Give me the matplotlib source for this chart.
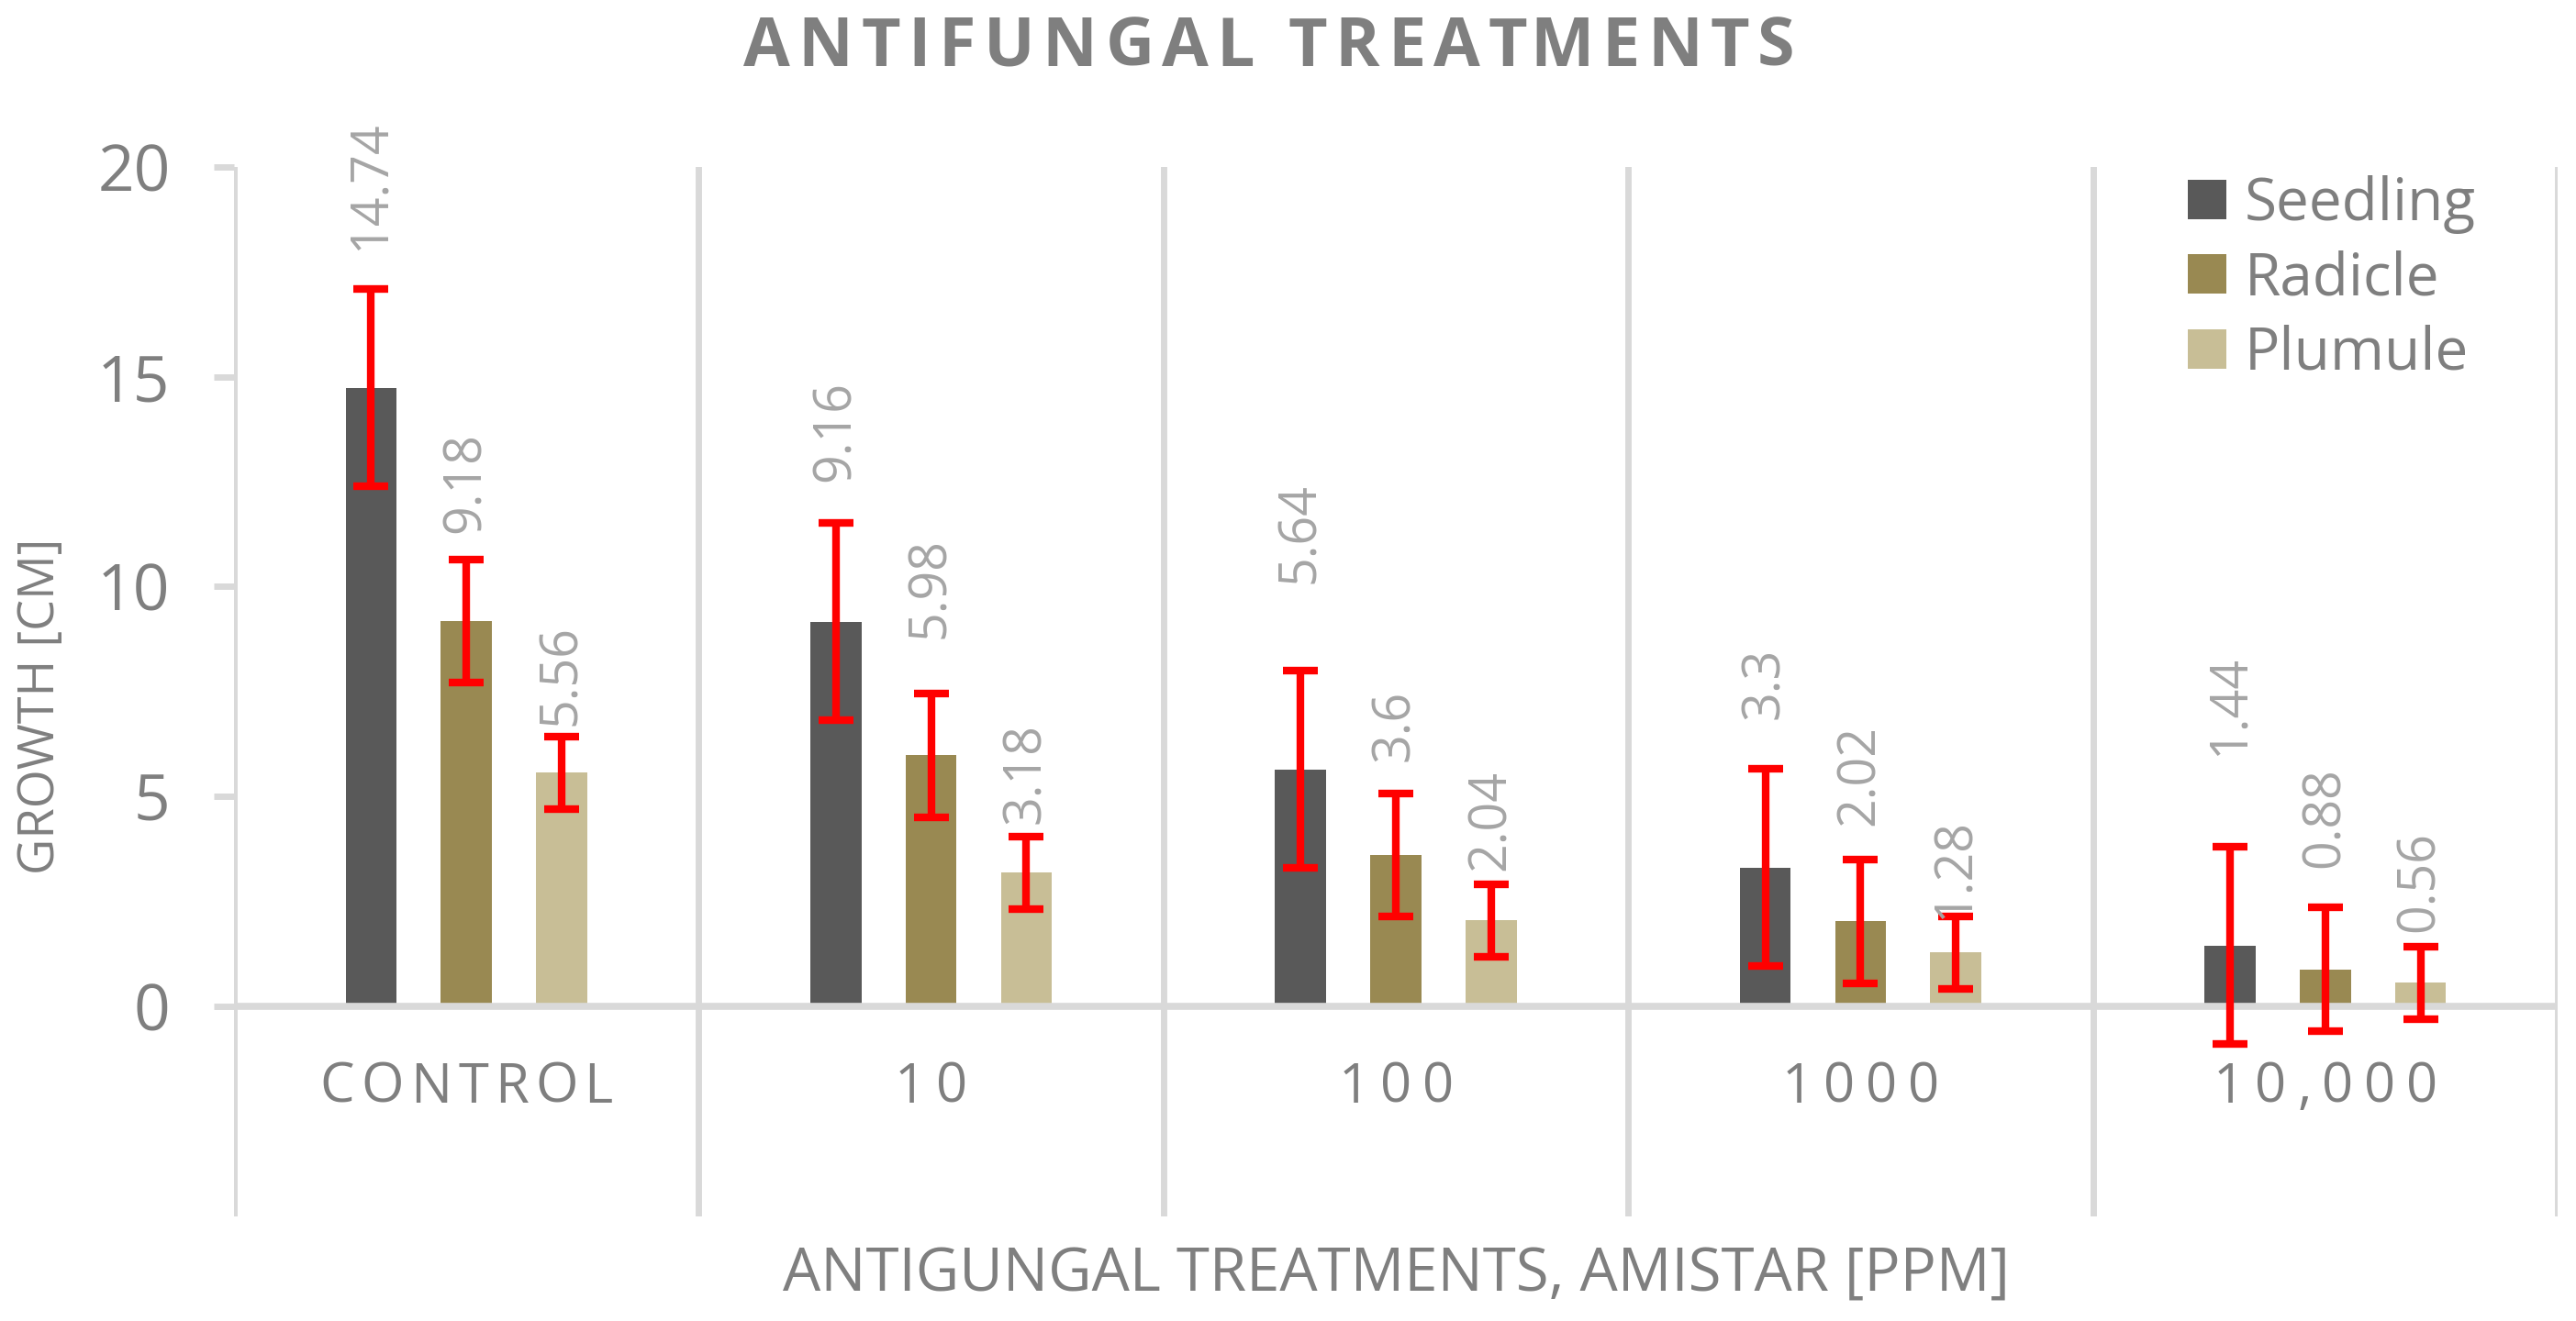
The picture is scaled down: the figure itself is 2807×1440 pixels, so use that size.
import numpy as np
import matplotlib
matplotlib.use('Agg')
import matplotlib.pyplot as plt
from matplotlib.patches import Patch
from matplotlib.transforms import IdentityTransform

categories = ['CONTROL', '10', '100', '1000', '10,000']
series = ['Seedling', 'Radicle', 'Plumule']

seedling = [14.74, 9.16, 5.64, 3.3, 1.44]
radicle = [9.18, 5.98, 3.6, 2.02, 0.88]
plumule = [5.56, 3.18, 2.04, 1.28, 0.56]

seedling_err = [2.35, 2.35, 2.35, 2.35, 2.35]
radicle_err = [1.47, 1.47, 1.47, 1.47, 1.47]
plumule_err = [0.86, 0.86, 0.86, 0.86, 0.86]

# where the rotated value labels start (placed by hand in the original)
seedling_lab = [18.0, 12.5, 10.08, 6.84, 5.96]
radicle_lab = [11.28, 8.77, 5.84, 4.31, 3.29]
plumule_lab = [6.69, 4.35, 3.23, 2.08, 1.77]

colors = ['#595959', '#998952', '#C8BE96']
GREY = '#7F7F7F'
LINE = '#D9D9D9'

plt.rcParams['font.family'] = ['Open Sans', 'DejaVu Sans']

W, H = 2807, 1440
fig = plt.figure(figsize=(W / 100, H / 100), dpi=100)
ax = fig.add_axes([255 / W, 1 - 1325.5 / H, (2787 - 255) / W, (1325.5 - 182) / H])
renderer = fig.canvas.get_renderer()

x = np.arange(len(categories))
offsets = [-0.205, 0, 0.205]
vals = [seedling, radicle, plumule]
errs = [seedling_err, radicle_err, plumule_err]
labs = [seedling_lab, radicle_lab, plumule_lab]

for k in range(3):
    ax.bar(x + offsets[k], vals[k], width=0.11, color=colors[k], zorder=2)
    ax.errorbar(x + offsets[k], vals[k], yerr=errs[k], fmt='none', ecolor='#FF0000',
                elinewidth=6, capsize=13.7, capthick=6, zorder=4)
    for i in range(len(categories)):
        ax.text(x[i] + offsets[k], labs[k][i], f'{vals[k][i]:g}', rotation=90,
                ha='center', va='bottom', fontsize=40, color='#A5A5A5', zorder=5)

ax.set_xlim(-0.5, 4.5)
ax.set_ylim(-5, 20)
ax.set_yticks([0, 5, 10, 15, 20])
ax.set_xticks([])
ax.set_xticks(np.arange(-0.5, 5, 1), minor=True)
ax.tick_params(axis='x', which='both', length=0, labelbottom=False)
ax.grid(which='minor', axis='x', color=LINE, lw=5, zorder=1)
ax.axhline(0, color=LINE, lw=5.5, zorder=3)
ax.tick_params(axis='y', length=16, width=5, color=LINE, pad=34,
               labelsize=50, labelcolor=GREY)
for s in ax.spines.values():
    s.set_visible(False)


def text_width(s, **kw):
    t = fig.text(0, 0, s, **kw)
    w = t.get_window_extent(renderer).width
    t.remove()
    return w


def spaced_text(cx, base, s, spacing=None, target=None, **kw):
    # draw letter by letter so the text can be tracked out like in Excel
    bar = text_width('|', **kw)
    offs = [0] + [text_width(s[:i] + '|', **kw) - bar for i in range(1, len(s))]
    natural = text_width(s, **kw)
    if target is not None:
        spacing = (target - natural) / (len(s) - 1)
    x0 = cx - (natural + spacing * (len(s) - 1)) / 2
    for i, ch in enumerate(s):
        fig.text(x0 + offs[i] + i * spacing, base, ch, ha='left', va='baseline',
                 transform=IdentityTransform(), **kw)
    return spacing


spaced_text(1383, H - 72, 'ANTIFUNGAL TREATMENTS', target=1145,
            fontsize=53, fontweight='bold', color=GREY)

cat_kw = dict(fontsize=43, color=GREY)
num_sp = None
for i in [4, 1, 2, 3]:
    cx = ax.transData.transform((x[i], 0))[0]
    if num_sp is None:
        num_sp = spaced_text(cx, H - 1202, categories[i], target=244, **cat_kw)
    else:
        spaced_text(cx, H - 1202, categories[i], spacing=num_sp, **cat_kw)
cx = ax.transData.transform((x[0], 0))[0]
spaced_text(cx, H - 1202, categories[0], target=319, **cat_kw)

fig.text(45 / W, 1 - 770 / H, 'GROWTH [CM]', rotation=90, ha='center', va='center',
         fontsize=39, color=GREY)
fig.text(1521 / W, 1 - 1390 / H, 'ANTIGUNGAL TREATMENTS, AMISTAR [PPM]',
         ha='center', va='center', fontsize=47, color=GREY)

handles = [Patch(facecolor=c) for c in colors]
fig.legend(handles, series, loc='upper left', bbox_to_anchor=(2384 / W, 1 - 191 / H),
           frameon=False, fontsize=46, labelcolor=GREY, handlelength=0.66,
           handleheight=0.66, handletextpad=0.31, labelspacing=0.27,
           borderpad=0, borderaxespad=0)

fig.savefig('out.png', dpi=100)
